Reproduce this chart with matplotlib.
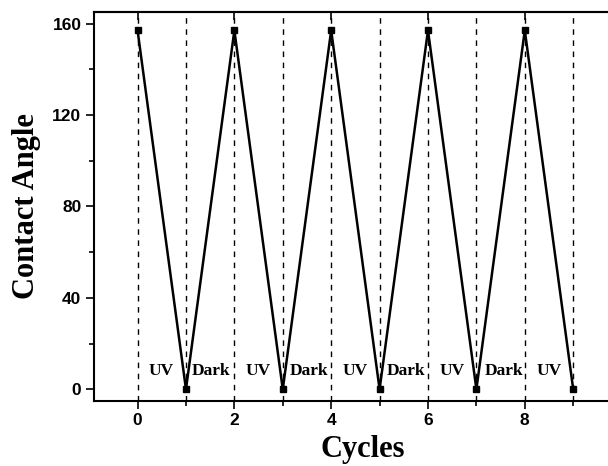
import matplotlib.pyplot as plt
from matplotlib.ticker import FixedLocator, MultipleLocator

# data
cycles = [0, 1, 2, 3, 4, 5, 6, 7, 8, 9]
angle = [157, 0, 157, 0, 157, 0, 157, 0, 157, 0]
stage_names = ['UV', 'Dark', 'UV', 'Dark', 'UV', 'Dark', 'UV', 'Dark', 'UV']
stage_x = [0.48, 1.52, 2.5, 3.55, 4.5, 5.55, 6.5, 7.57, 8.5]
x_ticks = [0, 2, 4, 6, 8]

if __name__ == '__main__':
    fig = plt.figure(figsize=(6.08, 4.66), dpi=100)
    ax = fig.add_axes([0.1546, 0.1401, 0.8837, 0.834])

    for c in cycles:
        ax.axvline(c, color='black', linestyle=(0, (4, 4)), linewidth=1.0, zorder=1)

    ax.plot(cycles, angle, color='black', linewidth=1.8, marker='s',
            markersize=5, zorder=3)

    for name, x in zip(stage_names, stage_x):
        ax.text(x, 8, name, ha='center', va='center', fontsize=12.5,
                fontweight='bold', family='Liberation Serif', zorder=4)

    ax.set_xlim(-0.9, 10.2)
    ax.set_ylim(-5, 165)
    ax.xaxis.set_major_locator(FixedLocator(x_ticks))
    ax.xaxis.set_minor_locator(FixedLocator([1, 3, 5, 7, 9]))
    ax.yaxis.set_major_locator(MultipleLocator(40))
    ax.yaxis.set_minor_locator(MultipleLocator(20))

    ax.tick_params(which='both', direction='out', width=1.2, right=False)
    ax.tick_params(which='major', length=5.5)
    ax.tick_params(which='minor', length=3.5)

    # inward ticks along the top spine
    top = ax.secondary_xaxis('top')
    top.set_xticks(x_ticks)
    top.tick_params(direction='in', length=5.5, width=1.2, labeltop=False)
    top.spines['top'].set_linewidth(1.5)

    for label in ax.get_xticklabels() + ax.get_yticklabels():
        label.set_family('Liberation Sans')
        label.set_fontweight('bold')
        label.set_fontsize(12.5)

    for s in ax.spines.values():
        s.set_linewidth(1.5)

    ax.set_xlabel('Cycles', fontsize=22, fontweight='bold',
                  family='Liberation Serif', labelpad=5)
    ax.set_ylabel('Contact Angle', fontsize=22, fontweight='bold',
                  family='Liberation Serif', labelpad=8)

    fig.savefig('out.png', dpi=100)
